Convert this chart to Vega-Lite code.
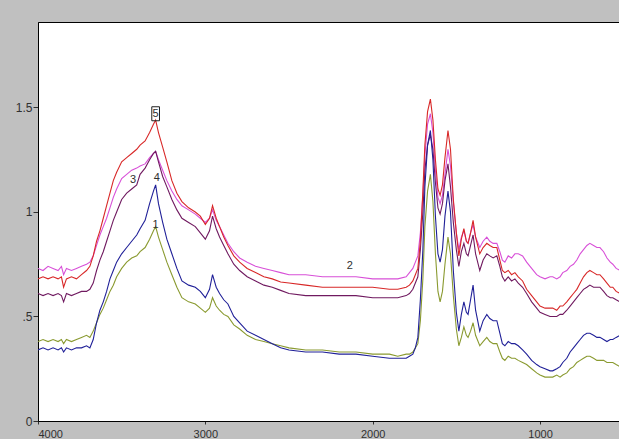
{
  "$schema": "https://vega.github.io/schema/vega-lite/v6.json",
  "autosize": {"type": "none"},
  "width": 582,
  "height": 399,
  "padding": {"left": 38, "top": 22, "right": 0, "bottom": 18},
  "background": "#c0c0c0",
  "config": {
    "view": {"fill": "white", "stroke": "black", "strokeWidth": 1},
    "axis": {"labelFont": "Liberation Sans Narrow, Liberation Sans", "labelFontSize": 12, "labelColor": "#303030", "domainColor": "black", "tickColor": "#303030", "grid": false, "title": null}
  },
  "datasets": {
    "spec": [
      {"wn": 4000, "s1": 0.38, "s2": 0.73, "s3": 0.61, "s4": 0.34, "s5": 0.68},
      {"wn": 3970, "s1": 0.39, "s2": 0.72, "s3": 0.60, "s4": 0.35, "s5": 0.69},
      {"wn": 3940, "s1": 0.38, "s2": 0.74, "s3": 0.61, "s4": 0.34, "s5": 0.68},
      {"wn": 3910, "s1": 0.39, "s2": 0.73, "s3": 0.60, "s4": 0.35, "s5": 0.69},
      {"wn": 3880, "s1": 0.38, "s2": 0.72, "s3": 0.61, "s4": 0.34, "s5": 0.68},
      {"wn": 3860, "s1": 0.39, "s2": 0.74, "s3": 0.60, "s4": 0.35, "s5": 0.69},
      {"wn": 3847, "s1": 0.37, "s2": 0.70, "s3": 0.57, "s4": 0.33, "s5": 0.64},
      {"wn": 3830, "s1": 0.39, "s2": 0.73, "s3": 0.61, "s4": 0.35, "s5": 0.68},
      {"wn": 3800, "s1": 0.38, "s2": 0.72, "s3": 0.60, "s4": 0.34, "s5": 0.69},
      {"wn": 3770, "s1": 0.39, "s2": 0.73, "s3": 0.61, "s4": 0.35, "s5": 0.68},
      {"wn": 3740, "s1": 0.40, "s2": 0.74, "s3": 0.62, "s4": 0.35, "s5": 0.70},
      {"wn": 3710, "s1": 0.41, "s2": 0.75, "s3": 0.62, "s4": 0.36, "s5": 0.72},
      {"wn": 3690, "s1": 0.40, "s2": 0.76, "s3": 0.63, "s4": 0.35, "s5": 0.74},
      {"wn": 3670, "s1": 0.43, "s2": 0.79, "s3": 0.66, "s4": 0.39, "s5": 0.79},
      {"wn": 3650, "s1": 0.47, "s2": 0.84, "s3": 0.72, "s4": 0.47, "s5": 0.86},
      {"wn": 3630, "s1": 0.51, "s2": 0.89, "s3": 0.77, "s4": 0.53, "s5": 0.91},
      {"wn": 3610, "s1": 0.54, "s2": 0.93, "s3": 0.81, "s4": 0.57, "s5": 0.97},
      {"wn": 3590, "s1": 0.58, "s2": 0.97, "s3": 0.86, "s4": 0.62, "s5": 1.03},
      {"wn": 3570, "s1": 0.62, "s2": 1.02, "s3": 0.91, "s4": 0.68, "s5": 1.09},
      {"wn": 3550, "s1": 0.65, "s2": 1.07, "s3": 0.96, "s4": 0.72, "s5": 1.15},
      {"wn": 3530, "s1": 0.69, "s2": 1.11, "s3": 1.00, "s4": 0.76, "s5": 1.19},
      {"wn": 3500, "s1": 0.73, "s2": 1.16, "s3": 1.06, "s4": 0.80, "s5": 1.24},
      {"wn": 3470, "s1": 0.76, "s2": 1.18, "s3": 1.09, "s4": 0.83, "s5": 1.26},
      {"wn": 3440, "s1": 0.78, "s2": 1.20, "s3": 1.11, "s4": 0.86, "s5": 1.28},
      {"wn": 3410, "s1": 0.79, "s2": 1.21, "s3": 1.13, "s4": 0.89, "s5": 1.30},
      {"wn": 3390, "s1": 0.81, "s2": 1.22, "s3": 1.18, "s4": 0.92, "s5": 1.32},
      {"wn": 3360, "s1": 0.83, "s2": 1.23, "s3": 1.21, "s4": 0.96, "s5": 1.34},
      {"wn": 3333, "s1": 0.87, "s2": 1.26, "s3": 1.25, "s4": 1.04, "s5": 1.38},
      {"wn": 3310, "s1": 0.91, "s2": 1.28, "s3": 1.28, "s4": 1.10, "s5": 1.42},
      {"wn": 3297, "s1": 0.93, "s2": 1.29, "s3": 1.29, "s4": 1.13, "s5": 1.44},
      {"wn": 3280, "s1": 0.88, "s2": 1.25, "s3": 1.24, "s4": 1.04, "s5": 1.38},
      {"wn": 3255, "s1": 0.82, "s2": 1.20, "s3": 1.17, "s4": 0.95, "s5": 1.31},
      {"wn": 3230, "s1": 0.76, "s2": 1.15, "s3": 1.12, "s4": 0.87, "s5": 1.24},
      {"wn": 3200, "s1": 0.70, "s2": 1.10, "s3": 1.06, "s4": 0.80, "s5": 1.15},
      {"wn": 3170, "s1": 0.64, "s2": 1.06, "s3": 1.01, "s4": 0.73, "s5": 1.09},
      {"wn": 3140, "s1": 0.59, "s2": 1.03, "s3": 0.97, "s4": 0.67, "s5": 1.05},
      {"wn": 3100, "s1": 0.57, "s2": 1.01, "s3": 0.95, "s4": 0.65, "s5": 1.02},
      {"wn": 3060, "s1": 0.56, "s2": 0.99, "s3": 0.93, "s4": 0.64, "s5": 1.00},
      {"wn": 3030, "s1": 0.54, "s2": 0.97, "s3": 0.90, "s4": 0.62, "s5": 0.98},
      {"wn": 3000, "s1": 0.52, "s2": 0.95, "s3": 0.87, "s4": 0.59, "s5": 0.94},
      {"wn": 2975, "s1": 0.54, "s2": 0.97, "s3": 0.91, "s4": 0.63, "s5": 0.97},
      {"wn": 2957, "s1": 0.59, "s2": 1.01, "s3": 0.98, "s4": 0.70, "s5": 1.03},
      {"wn": 2935, "s1": 0.55, "s2": 0.96, "s3": 0.92, "s4": 0.64, "s5": 0.97},
      {"wn": 2915, "s1": 0.53, "s2": 0.93, "s3": 0.88, "s4": 0.61, "s5": 0.93},
      {"wn": 2890, "s1": 0.51, "s2": 0.89, "s3": 0.84, "s4": 0.58, "s5": 0.88},
      {"wn": 2865, "s1": 0.50, "s2": 0.85, "s3": 0.80, "s4": 0.56, "s5": 0.84},
      {"wn": 2830, "s1": 0.46, "s2": 0.81, "s3": 0.75, "s4": 0.50, "s5": 0.79},
      {"wn": 2795, "s1": 0.44, "s2": 0.78, "s3": 0.72, "s4": 0.47, "s5": 0.76},
      {"wn": 2750, "s1": 0.41, "s2": 0.76, "s3": 0.69, "s4": 0.43, "s5": 0.73},
      {"wn": 2700, "s1": 0.39, "s2": 0.74, "s3": 0.67, "s4": 0.41, "s5": 0.71},
      {"wn": 2650, "s1": 0.38, "s2": 0.73, "s3": 0.65, "s4": 0.39, "s5": 0.69},
      {"wn": 2600, "s1": 0.37, "s2": 0.72, "s3": 0.64, "s4": 0.37, "s5": 0.68},
      {"wn": 2550, "s1": 0.36, "s2": 0.71, "s3": 0.625, "s4": 0.35, "s5": 0.665},
      {"wn": 2500, "s1": 0.35, "s2": 0.70, "s3": 0.61, "s4": 0.34, "s5": 0.66},
      {"wn": 2400, "s1": 0.34, "s2": 0.70, "s3": 0.60, "s4": 0.33, "s5": 0.65},
      {"wn": 2300, "s1": 0.34, "s2": 0.69, "s3": 0.60, "s4": 0.33, "s5": 0.64},
      {"wn": 2200, "s1": 0.33, "s2": 0.69, "s3": 0.60, "s4": 0.32, "s5": 0.64},
      {"wn": 2100, "s1": 0.33, "s2": 0.69, "s3": 0.60, "s4": 0.32, "s5": 0.64},
      {"wn": 2000, "s1": 0.32, "s2": 0.68, "s3": 0.59, "s4": 0.31, "s5": 0.64},
      {"wn": 1900, "s1": 0.32, "s2": 0.68, "s3": 0.59, "s4": 0.30, "s5": 0.63},
      {"wn": 1850, "s1": 0.31, "s2": 0.68, "s3": 0.59, "s4": 0.30, "s5": 0.63},
      {"wn": 1800, "s1": 0.32, "s2": 0.69, "s3": 0.60, "s4": 0.30, "s5": 0.64},
      {"wn": 1780, "s1": 0.32, "s2": 0.71, "s3": 0.61, "s4": 0.31, "s5": 0.65},
      {"wn": 1760, "s1": 0.33, "s2": 0.73, "s3": 0.63, "s4": 0.32, "s5": 0.67},
      {"wn": 1745, "s1": 0.35, "s2": 0.76, "s3": 0.66, "s4": 0.35, "s5": 0.70},
      {"wn": 1730, "s1": 0.37, "s2": 0.79, "s3": 0.69, "s4": 0.40, "s5": 0.73},
      {"wn": 1715, "s1": 0.48, "s2": 0.90, "s3": 0.82, "s4": 0.58, "s5": 0.86},
      {"wn": 1700, "s1": 0.68, "s2": 1.08, "s3": 1.00, "s4": 0.82, "s5": 1.10},
      {"wn": 1688, "s1": 0.93, "s2": 1.27, "s3": 1.20, "s4": 1.12, "s5": 1.32},
      {"wn": 1672, "s1": 1.10, "s2": 1.42, "s3": 1.32, "s4": 1.32, "s5": 1.48},
      {"wn": 1655, "s1": 1.18, "s2": 1.47, "s3": 1.37, "s4": 1.39, "s5": 1.54},
      {"wn": 1640, "s1": 1.05, "s2": 1.38, "s3": 1.30, "s4": 1.25, "s5": 1.44},
      {"wn": 1625, "s1": 0.80, "s2": 1.20, "s3": 1.14, "s4": 0.98, "s5": 1.25},
      {"wn": 1610, "s1": 0.62, "s2": 1.07, "s3": 1.02, "s4": 0.80, "s5": 1.11},
      {"wn": 1597, "s1": 0.57, "s2": 1.04, "s3": 0.99, "s4": 0.76, "s5": 1.08},
      {"wn": 1583, "s1": 0.62, "s2": 1.08, "s3": 1.04, "s4": 0.82, "s5": 1.13},
      {"wn": 1568, "s1": 0.75, "s2": 1.18, "s3": 1.15, "s4": 0.98, "s5": 1.26},
      {"wn": 1550, "s1": 0.88, "s2": 1.30, "s3": 1.23, "s4": 1.10, "s5": 1.39},
      {"wn": 1535, "s1": 0.80, "s2": 1.22, "s3": 1.12, "s4": 1.00, "s5": 1.30},
      {"wn": 1518, "s1": 0.60, "s2": 1.05, "s3": 0.95, "s4": 0.72, "s5": 1.06},
      {"wn": 1500, "s1": 0.44, "s2": 0.90, "s3": 0.82, "s4": 0.52, "s5": 0.90},
      {"wn": 1485, "s1": 0.36, "s2": 0.82, "s3": 0.74, "s4": 0.43, "s5": 0.79},
      {"wn": 1470, "s1": 0.40, "s2": 0.88, "s3": 0.81, "s4": 0.51, "s5": 0.87},
      {"wn": 1455, "s1": 0.45, "s2": 0.91, "s3": 0.85, "s4": 0.57, "s5": 0.92},
      {"wn": 1440, "s1": 0.41, "s2": 0.86, "s3": 0.80, "s4": 0.52, "s5": 0.86},
      {"wn": 1430, "s1": 0.40, "s2": 0.85, "s3": 0.79, "s4": 0.51, "s5": 0.85},
      {"wn": 1415, "s1": 0.43, "s2": 0.90, "s3": 0.84, "s4": 0.58, "s5": 0.90},
      {"wn": 1400, "s1": 0.47, "s2": 0.94, "s3": 0.89, "s4": 0.65, "s5": 0.96},
      {"wn": 1385, "s1": 0.41, "s2": 0.88, "s3": 0.80, "s4": 0.53, "s5": 0.88},
      {"wn": 1360, "s1": 0.36, "s2": 0.83, "s3": 0.72, "s4": 0.43, "s5": 0.80},
      {"wn": 1340, "s1": 0.38, "s2": 0.86, "s3": 0.77, "s4": 0.48, "s5": 0.83},
      {"wn": 1318, "s1": 0.40, "s2": 0.88, "s3": 0.80, "s4": 0.51, "s5": 0.85},
      {"wn": 1300, "s1": 0.38, "s2": 0.86, "s3": 0.79, "s4": 0.49, "s5": 0.84},
      {"wn": 1280, "s1": 0.37, "s2": 0.85, "s3": 0.78, "s4": 0.48, "s5": 0.83},
      {"wn": 1258, "s1": 0.37, "s2": 0.85, "s3": 0.79, "s4": 0.48, "s5": 0.83},
      {"wn": 1240, "s1": 0.33, "s2": 0.81, "s3": 0.74, "s4": 0.42, "s5": 0.77},
      {"wn": 1225, "s1": 0.30, "s2": 0.77, "s3": 0.69, "s4": 0.37, "s5": 0.72},
      {"wn": 1210, "s1": 0.29, "s2": 0.76, "s3": 0.67, "s4": 0.36, "s5": 0.71},
      {"wn": 1190, "s1": 0.31, "s2": 0.79, "s3": 0.69, "s4": 0.38, "s5": 0.72},
      {"wn": 1170, "s1": 0.30, "s2": 0.78, "s3": 0.67, "s4": 0.37, "s5": 0.70},
      {"wn": 1150, "s1": 0.30, "s2": 0.80, "s3": 0.68, "s4": 0.37, "s5": 0.71},
      {"wn": 1130, "s1": 0.29, "s2": 0.80, "s3": 0.66, "s4": 0.36, "s5": 0.69},
      {"wn": 1104, "s1": 0.28, "s2": 0.79, "s3": 0.64, "s4": 0.34, "s5": 0.67},
      {"wn": 1080, "s1": 0.27, "s2": 0.76, "s3": 0.61, "s4": 0.32, "s5": 0.63},
      {"wn": 1050, "s1": 0.25, "s2": 0.73, "s3": 0.57, "s4": 0.29, "s5": 0.60},
      {"wn": 1020, "s1": 0.23, "s2": 0.70, "s3": 0.54, "s4": 0.27, "s5": 0.57},
      {"wn": 1000, "s1": 0.22, "s2": 0.69, "s3": 0.52, "s4": 0.26, "s5": 0.55},
      {"wn": 970, "s1": 0.21, "s2": 0.68, "s3": 0.51, "s4": 0.25, "s5": 0.54},
      {"wn": 940, "s1": 0.21, "s2": 0.69, "s3": 0.50, "s4": 0.24, "s5": 0.54},
      {"wn": 924, "s1": 0.21, "s2": 0.69, "s3": 0.50, "s4": 0.24, "s5": 0.54},
      {"wn": 900, "s1": 0.22, "s2": 0.68, "s3": 0.50, "s4": 0.25, "s5": 0.53},
      {"wn": 880, "s1": 0.21, "s2": 0.69, "s3": 0.51, "s4": 0.26, "s5": 0.55},
      {"wn": 864, "s1": 0.22, "s2": 0.71, "s3": 0.51, "s4": 0.28, "s5": 0.55},
      {"wn": 840, "s1": 0.23, "s2": 0.72, "s3": 0.53, "s4": 0.30, "s5": 0.57},
      {"wn": 820, "s1": 0.25, "s2": 0.74, "s3": 0.55, "s4": 0.33, "s5": 0.59},
      {"wn": 800, "s1": 0.26, "s2": 0.75, "s3": 0.57, "s4": 0.35, "s5": 0.61},
      {"wn": 780, "s1": 0.28, "s2": 0.77, "s3": 0.59, "s4": 0.37, "s5": 0.63},
      {"wn": 760, "s1": 0.29, "s2": 0.80, "s3": 0.61, "s4": 0.39, "s5": 0.66},
      {"wn": 740, "s1": 0.30, "s2": 0.82, "s3": 0.63, "s4": 0.41, "s5": 0.69},
      {"wn": 720, "s1": 0.31, "s2": 0.84, "s3": 0.64, "s4": 0.42, "s5": 0.71},
      {"wn": 702, "s1": 0.31, "s2": 0.85, "s3": 0.65, "s4": 0.42, "s5": 0.72},
      {"wn": 680, "s1": 0.30, "s2": 0.84, "s3": 0.64, "s4": 0.41, "s5": 0.71},
      {"wn": 660, "s1": 0.29, "s2": 0.83, "s3": 0.64, "s4": 0.40, "s5": 0.70},
      {"wn": 642, "s1": 0.29, "s2": 0.83, "s3": 0.64, "s4": 0.40, "s5": 0.70},
      {"wn": 620, "s1": 0.29, "s2": 0.81, "s3": 0.62, "s4": 0.39, "s5": 0.68},
      {"wn": 600, "s1": 0.28, "s2": 0.78, "s3": 0.60, "s4": 0.38, "s5": 0.66},
      {"wn": 580, "s1": 0.28, "s2": 0.76, "s3": 0.59, "s4": 0.39, "s5": 0.64},
      {"wn": 565, "s1": 0.28, "s2": 0.75, "s3": 0.59, "s4": 0.39, "s5": 0.64},
      {"wn": 545, "s1": 0.27, "s2": 0.73, "s3": 0.58, "s4": 0.40, "s5": 0.62},
      {"wn": 522, "s1": 0.26, "s2": 0.72, "s3": 0.57, "s4": 0.41, "s5": 0.61}
    ],
    "labels": [
      {"wn": 3297, "v": 1.47, "t": "5"},
      {"wn": 3290, "v": 1.165, "t": "4"},
      {"wn": 3432, "v": 1.155, "t": "3"},
      {"wn": 3297, "v": 0.94, "t": "1"},
      {"wn": 2137, "v": 0.74, "t": "2"}
    ]
  },
  "layer": [
    {
      "data": {"name": "spec"},
      "transform": [{"fold": ["s1", "s2", "s3", "s4", "s5"], "as": ["series", "abs"]}],
      "mark": {"type": "line", "strokeWidth": 1.1, "clip": true},
      "encoding": {
        "x": {"field": "wn", "type": "quantitative", "scale": {"domain": [522, 4000], "reverse": true, "nice": false, "zero": false},
              "axis": {"values": [4000, 3000, 2000, 1000], "format": "d", "tickSize": 3, "labelPadding": 4, "labelBaseline": "top", "labelFontSize": 11}},
        "y": {"field": "abs", "type": "quantitative", "scale": {"domain": [0, 1.909], "nice": false},
              "axis": {"values": [0, 0.5, 1, 1.5], "format": "~g", "labelExpr": "datum.value == 0.5 ? '.5' : datum.label", "tickSize": 5, "labelPadding": 1}},
        "color": {"field": "series", "type": "nominal", "legend": null,
                  "scale": {"domain": ["s1", "s2", "s3", "s4", "s5"], "range": ["#8a9a30", "#d850d8", "#701a60", "#202098", "#d82828"]}},
        "order": {"field": "wn", "type": "quantitative", "sort": "descending"}
      }
    },
    {
      "data": {"name": "labels"},
      "mark": {"type": "text", "font": "Liberation Sans", "fontSize": 11, "color": "#303030", "align": "center", "baseline": "middle"},
      "encoding": {
        "x": {"field": "wn", "type": "quantitative"},
        "y": {"field": "v", "type": "quantitative"},
        "text": {"field": "t"}
      }
    },
    {
      "data": {"name": "labels"},
      "transform": [{"filter": "datum.t == '5'"}],
      "mark": {"type": "point", "shape": "M-0.55,-1L0.55,-1L0.55,1L-0.55,1Z", "size": 196, "filled": false, "stroke": "#202020", "strokeWidth": 1, "opacity": 1},
      "encoding": {
        "x": {"field": "wn", "type": "quantitative"},
        "y": {"field": "v", "type": "quantitative"}
      }
    }
  ]
}
